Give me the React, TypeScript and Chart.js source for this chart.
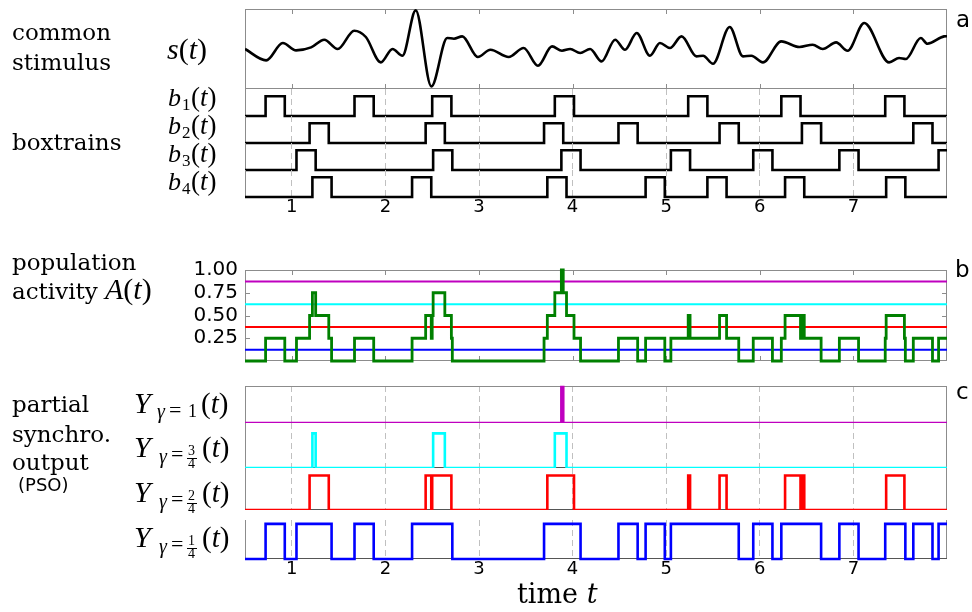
import React, { useEffect, useRef } from "react";
import { Chart, registerables } from "chart.js";

Chart.register(...registerables);

// ---------------- data ----------------
const T_MIN = 0.5;
const T_MAX = 8.0;
const X_TICKS = [1, 2, 3, 4, 5, 6, 7];

// common stimulus s(t), read at extrema / turning points
const STIM_T = [0.5, 0.726, 0.904, 1.046, 1.206, 1.347, 1.49, 1.667, 1.791, 1.951, 2.076, 2.182, 2.324, 2.491, 2.661, 2.732, 2.821, 2.987, 3.122, 3.317, 3.477, 3.63, 3.78, 3.886, 3.974, 4.081, 4.187, 4.31, 4.454, 4.56, 4.685, 4.826, 4.933, 5.04, 5.164, 5.324, 5.394, 5.5, 5.678, 5.82, 5.91, 6.033, 6.229, 6.424, 6.565, 6.672, 6.815, 6.938, 7.116, 7.382, 7.488, 7.56, 7.72, 7.79, 7.968, 8.0];
const STIM_S = [0.0, -0.285, 0.15, -0.035, 0.04, 0.233, 0.0, 0.458, 0.3, -0.335, 0.0, -0.168, 0.965, -0.935, 0.275, 0.258, 0.315, -0.2, -0.018, -0.2, 0.025, -0.418, 0.065, -0.043, 0.0, -0.1, 0.0, -0.31, 0.233, -0.018, 0.4, -0.168, 0.15, 0.025, 0.315, -0.185, -0.168, -0.368, 0.55, -0.185, -0.168, -0.335, 0.19, 0.05, 0.108, 0.0, 0.165, -0.043, 0.65, -0.335, -0.225, -0.25, 0.275, 0.133, 0.315, 0.32];

// boxtrains: start times of each box, common box width
const BOX_WIDTH = 0.205;
const B1_STARTS = [0.72, 1.67, 2.5, 3.81, 5.235, 6.23, 7.34];
const B2_STARTS = [1.19, 2.43, 3.695, 4.49, 5.57, 6.45, 7.64];
const B3_STARTS = [1.05, 2.51, 3.88, 5.05, 5.93, 6.85, 7.91];
const B4_STARTS = [1.22, 2.285, 3.73, 4.78, 5.44, 6.27, 7.35];

// population activity axis ticks and PSO thresholds
const A_TICKS = [0.25, 0.5, 0.75, 1.0];
const THRESHOLDS = [0.125, 0.375, 0.625, 0.875];
const THRESHOLD_COLORS = ["#0000ff", "#ff0000", "#00ffff", "#bf00bf"];

// ---------------- layout ----------------
const W = 972;
const H = 612;
const PL = 245;
const PR = 947;
const M = 6;
const X_LABEL_H = 24;
const Y_AXIS_W = 60;
const FRAME_COLOR = "#8c8c8c";
const GRID_COLOR = "#c0c0c0";

type Pt = { x: number; y: number };
const TRAINS = [B1_STARTS, B2_STARTS, B3_STARTS, B4_STARTS];

function boxPoints(starts: number[]): Pt[] {
  const pts: Pt[] = [{ x: T_MIN, y: 0 }];
  for (const s of starts) {
    pts.push({ x: s, y: 0 }, { x: s, y: 1 }, { x: s + BOX_WIDTH, y: 1 }, { x: s + BOX_WIDTH, y: 0 });
  }
  pts.push({ x: T_MAX, y: 0 });
  return pts;
}

function edges(): number[] {
  const all: number[] = [T_MIN, T_MAX];
  TRAINS.forEach((tr) => tr.forEach((s) => all.push(s, s + BOX_WIDTH)));
  return Array.from(new Set(all.map((v) => Math.round(v * 1e6) / 1e6))).sort((a, b) => a - b);
}

function activity(t: number): number {
  let c = 0;
  TRAINS.forEach((tr) => tr.forEach((s) => { if (t >= s && t < s + BOX_WIDTH) c++; }));
  return c / TRAINS.length;
}

function stepPts(f: (t: number) => number): Pt[] {
  const e = edges();
  const pts: Pt[] = [];
  for (let i = 0; i < e.length - 1; i++) {
    const v = f((e[i] + e[i + 1]) / 2);
    pts.push({ x: e[i], y: v }, { x: e[i + 1], y: v });
  }
  return pts;
}

const framePlugin = {
  id: "frame",
  beforeDatasetsDraw(chart: any, _args: any, opts: any) {
    const { ctx, chartArea: a } = chart;
    const L = Math.round(a.left) + 0.5;
    const R = Math.round(a.right) - 0.5;
    const T = Math.round(a.top) + 0.5;
    const B = Math.round(a.bottom) - 0.5;
    ctx.save();
    ctx.lineWidth = 1;
    const line = (x1: number, y1: number, x2: number, y2: number, c: string) => {
      ctx.strokeStyle = c;
      ctx.beginPath();
      ctx.moveTo(x1, y1);
      ctx.lineTo(x2, y2);
      ctx.stroke();
    };
    if (opts.left) line(L, a.top, L, a.bottom, FRAME_COLOR);
    if (opts.right) line(R, a.top, R, a.bottom, FRAME_COLOR);
    if (opts.top) line(a.left, T, a.right, T, FRAME_COLOR);
    if (opts.bottom) line(a.left, B, a.right, B, typeof opts.bottom === "string" ? opts.bottom : FRAME_COLOR);
    if (opts.ticksX) {
      const xs = chart.scales.x;
      X_TICKS.forEach((v) => {
        const px = Math.round(xs.getPixelForValue(v)) + 0.5;
        line(px, a.top, px, a.top + 5, FRAME_COLOR);
        line(px, a.bottom - 5, px, a.bottom, FRAME_COLOR);
      });
    }
    if (opts.ticksY) {
      const ys = chart.scales.y;
      (opts.ticksY as number[]).forEach((v) => {
        const py = Math.round(ys.getPixelForValue(v)) + 0.5;
        line(a.left, py, a.left + 5, py, FRAME_COLOR);
        line(a.right - 5, py, a.right, py, FRAME_COLOR);
      });
    }
    ctx.restore();
  },
};

interface PanelSpec {
  top: number;
  bottom: number;
  yMin: number;
  yMax: number;
  datasets: any[];
  xLabels?: boolean;
  xGrid?: boolean;
  yLabels?: boolean;
  frame: any;
}

const CLIP_V = { left: 0, right: 0, top: 3, bottom: 3 };
const CLIP_TOP = { left: 0, right: 0, top: 3, bottom: 0 };

function trace(data: Pt[], color: string, width: number, clip: any, extra: any = {}) {
  return { data, borderColor: color, borderWidth: width, pointRadius: 0, fill: false, tension: 0, clip, ...extra };
}

const PANELS: PanelSpec[] = [
  {
    top: 9, bottom: 89, yMin: -1, yMax: 1,
    datasets: [trace(STIM_T.map((t, i) => ({ x: t, y: STIM_S[i] })), "#000", 2.6, CLIP_V, { cubicInterpolationMode: "monotone" })],
    frame: { left: true, right: true, top: true, bottom: true, ticksX: true },
  },
  ...TRAINS.map((tr, i) => ({
    top: [89, 116, 143, 170][i], bottom: [116, 143, 170, 197][i], yMin: 0, yMax: 1.37,
    datasets: [trace(boxPoints(tr), "#000", 2.6, CLIP_V)],
    xGrid: true, xLabels: i === 3,
    frame: { left: true, right: true },
  })),
  {
    top: 257, bottom: 374, yMin: 0, yMax: 1.0,
    datasets: [
      trace(stepPts(activity), "#008000", 2.8, { left: 0, right: 0, top: 2, bottom: 2 }),
      ...THRESHOLDS.map((th, i) => trace([{ x: T_MIN, y: th }, { x: T_MAX, y: th }], THRESHOLD_COLORS[i], 2, 0)),
    ],
    yLabels: true,
    frame: { left: true, right: true, top: true, bottom: true, ticksX: true, ticksY: A_TICKS },
  },
  ...[3, 2, 1, 0].map((k, i) => ({
    top: [386, 423, 468, 520][i], bottom: [423, 468, 510, 559][i], yMin: 0, yMax: [1.03, 1.3, 1.22, 1.11][i],
    datasets: [trace(stepPts((t) => (activity(t) > THRESHOLDS[k] ? 1 : 0)), THRESHOLD_COLORS[k], 2.6, i === 3 ? CLIP_V : CLIP_TOP)],
    xGrid: true, xLabels: i === 3,
    frame: { left: true, right: true, top: i === 0, bottom: "#555" },
  })),
];

function makePanel(canvas: HTMLCanvasElement, spec: PanelSpec): Chart {
  const hasXL = !!spec.xLabels;
  const config: any = {
    type: "line",
    data: { datasets: spec.datasets },
    options: {
      animation: false,
      responsive: false,
      maintainAspectRatio: false,
      devicePixelRatio: 1,
      events: [],
      layout: { padding: { left: spec.yLabels ? PL - Y_AXIS_W : PL, right: W - PR, top: M, bottom: M } },
      plugins: { legend: { display: false }, tooltip: { enabled: false }, frame: spec.frame },
      scales: {
        x: {
          type: "linear",
          min: T_MIN,
          max: T_MAX,
          display: !!(spec.xGrid || hasXL),
          afterBuildTicks: (ax: any) => { ax.ticks = X_TICKS.map((v) => ({ value: v })); },
          afterFit: (ax: any) => { ax.height = hasXL ? X_LABEL_H : 0; },
          grid: { display: !!spec.xGrid, color: GRID_COLOR, lineWidth: 1, drawTicks: false },
          border: { display: false, dash: [6, 4] },
          ticks: {
            display: hasXL,
            font: { family: "DejaVu Sans", size: 18 },
            color: "#000",
            padding: 0,
            maxRotation: 0,
            autoSkip: false,
            callback: (v: any) => String(v),
          },
        },
        y: {
          type: "linear",
          min: spec.yMin,
          max: spec.yMax,
          display: !!spec.yLabels,
          afterBuildTicks: (ax: any) => { if (spec.yLabels) ax.ticks = A_TICKS.map((v) => ({ value: v })); },
          afterFit: (ax: any) => { if (spec.yLabels) ax.width = Y_AXIS_W; },
          grid: { display: false, drawTicks: false },
          border: { display: false },
          ticks: {
            font: { family: "DejaVu Sans", size: 20 },
            color: "#000",
            padding: 7,
            callback: (v: any) => Number(v).toFixed(2),
          },
        },
      },
    },
    plugins: [framePlugin],
  };
  return new Chart(canvas, config);
}

const SERIF = '"DejaVu Serif", serif';
const MATH = '"Liberation Serif", serif';
const SANS = '"DejaVu Sans", sans-serif';

function Txt(props: { x: number; base: number; size: number; family: string; italic?: boolean; children: any }) {
  const k = props.family === MATH ? 0.8375 : 0.846;
  return (
    <div
      style={{
        position: "absolute",
        left: props.x,
        top: props.base - k * props.size,
        fontSize: props.size,
        fontFamily: props.family,
        fontStyle: props.italic ? "italic" : "normal",
        lineHeight: `${props.size}px`,
        whiteSpace: "nowrap",
        color: "#000",
      }}
    >
      {props.children}
    </div>
  );
}

function Frac(props: { x: number; base: number; num: string; den: string }) {
  return (
    <>
      <Txt x={props.x + 1} base={props.base - 1} size={14} family={MATH}>{props.num}</Txt>
      <div style={{ position: "absolute", left: props.x, top: props.base + 1, width: 10, height: 1, background: "#000" }} />
      <Txt x={props.x + 1} base={props.base + 12} size={14} family={MATH}>{props.den}</Txt>
    </>
  );
}

function YLabel(props: { base: number; frac?: [string, string] }) {
  const b = props.base;
  const f = !!props.frac;
  return (
    <>
      <Txt x={134} base={b} size={30} family={MATH} italic>Y</Txt>
      <Txt x={f ? 159 : 157} base={b + (f ? 6 : 5)} size={20} family={MATH} italic>γ</Txt>
      <Txt x={f ? 171 : 169} base={b + 4} size={22} family={MATH}>=</Txt>
      {f ? (
        <Frac x={187} base={b} num={props.frac![0]} den={props.frac![1]} />
      ) : (
        <Txt x={188} base={b + 4} size={18} family={MATH}>1</Txt>
      )}
      <Txt x={f ? 202 : 201} base={b} size={29} family={MATH}>(<i>t</i>)</Txt>
    </>
  );
}

function BLabel(props: { base: number; idx: string }) {
  return (
    <>
      <Txt x={168} base={props.base} size={26} family={MATH} italic>b</Txt>
      <Txt x={182} base={props.base + 3} size={17} family={MATH}>{props.idx}</Txt>
      <Txt x={191} base={props.base} size={27} family={MATH}>(<i>t</i>)</Txt>
    </>
  );
}

export default function App() {
  const refs = useRef<(HTMLCanvasElement | null)[]>([]);

  useEffect(() => {
    const charts: Chart[] = [];
    PANELS.forEach((p, i) => {
      const c = refs.current[i];
      if (c) charts.push(makePanel(c, p));
    });
    return () => charts.forEach((c) => c.destroy());
  }, []);

  return (
    <div style={{ position: "absolute", left: 0, top: 0, width: W, height: H, background: "#fff", overflow: "hidden" }}>
      {PANELS.map((p, i) => {
        const h = p.bottom - p.top + 2 * M + (p.xLabels ? X_LABEL_H : 0);
        return (
          <canvas
            key={i}
            ref={(el) => { refs.current[i] = el; }}
            width={W}
            height={h}
            style={{ position: "absolute", left: 0, top: p.top - M, width: W, height: h }}
          />
        );
      })}

      {/* left-hand labels */}
      <Txt x={12} base={40} size={23} family={SERIF}>common</Txt>
      <Txt x={12} base={70} size={23} family={SERIF}>stimulus</Txt>
      <Txt x={167} base={59} size={30} family={MATH}><i>s</i>(<i>t</i>)</Txt>
      <Txt x={12} base={150} size={23} family={SERIF}>boxtrains</Txt>
      <BLabel base={107} idx="1" />
      <BLabel base={135} idx="2" />
      <BLabel base={163} idx="3" />
      <BLabel base={191} idx="4" />

      <Txt x={12} base={270} size={23} family={SERIF}>population</Txt>
      <Txt x={12} base={299} size={23} family={SERIF}>activity</Txt>
      <Txt x={105} base={299} size={30} family={MATH}><i>A</i>(<i>t</i>)</Txt>

      <Txt x={12} base={412} size={23} family={SERIF}>partial</Txt>
      <Txt x={12} base={442} size={23} family={SERIF}>synchro.</Txt>
      <Txt x={12} base={470} size={23} family={SERIF}>output</Txt>
      <Txt x={18} base={491} size={18} family={SANS}>(PSO)</Txt>
      <YLabel base={413} />
      <YLabel base={457} frac={["3", "4"]} />
      <YLabel base={502} frac={["2", "4"]} />
      <YLabel base={547} frac={["1", "4"]} />

      {/* panel letters */}
      <Txt x={956} base={27} size={23} family={SANS}>a</Txt>
      <Txt x={955} base={277} size={23} family={SANS}>b</Txt>
      <Txt x={956} base={399} size={23} family={SANS}>c</Txt>

      {/* x-axis title */}
      <Txt x={517} base={603} size={27} family={SERIF}>time <i>t</i></Txt>
    </div>
  );
}
